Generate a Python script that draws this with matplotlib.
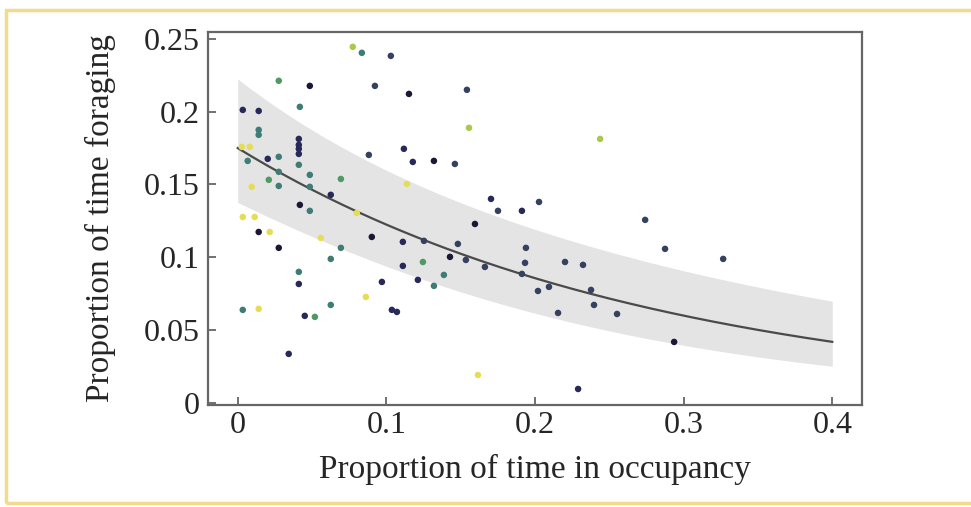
import numpy as np
import matplotlib
matplotlib.use("Agg")
import matplotlib.pyplot as plt
from matplotlib.patches import Rectangle

# ---- data ----
occupancy = [0.0034, 0.0141, 0.0485, 0.0923, 0.0411, 0.0411, 0.0411, 0.0411, 0.0202, 0.0626,
             0.0418, 0.1030, 0.1152, 0.1118, 0.1178, 0.0882, 0.0141, 0.0276, 0.0411, 0.0902,
             0.1111, 0.1253, 0.1111, 0.0970, 0.1212, 0.1037, 0.1071, 0.0451, 0.0343, 0.1542,
             0.1320, 0.1461, 0.1704, 0.1751, 0.1912, 0.2027, 0.1596, 0.1481, 0.1428, 0.1535,
             0.1663, 0.1939, 0.1933, 0.1912, 0.2020, 0.2094, 0.2202, 0.2323, 0.2377, 0.2397,
             0.2155, 0.2552, 0.2741, 0.2875, 0.3266, 0.2936, 0.2290,
             0.0418, 0.0141, 0.0141, 0.0067, 0.0276, 0.0411, 0.0276, 0.0485, 0.0276, 0.0485,
             0.0835, 0.0485, 0.0694, 0.0626, 0.0411, 0.0626, 0.0034, 0.1387, 0.1320,
             0.0276, 0.0209, 0.0694, 0.0519, 0.1246,
             0.0774, 0.1556, 0.2438,
             0.0027, 0.0081, 0.0094, 0.0801, 0.1138, 0.0034, 0.0114, 0.0215, 0.0559, 0.0862,
             0.0141, 0.1616]
foraging = [0.2012, 0.2005, 0.2177, 0.2177, 0.1813, 0.1772, 0.1745, 0.1710, 0.1676, 0.1429,
            0.1360, 0.2383, 0.2122, 0.1745, 0.1655, 0.1703, 0.1174, 0.1065, 0.0817, 0.1140,
            0.1106, 0.1113, 0.0941, 0.0831, 0.0845, 0.0639, 0.0625, 0.0598, 0.0337, 0.2150,
            0.1662, 0.1641, 0.1401, 0.1319, 0.1319, 0.1380, 0.1229, 0.1092, 0.1003, 0.0982,
            0.0934, 0.1065, 0.0962, 0.0886, 0.0769, 0.0797, 0.0968, 0.0948, 0.0776, 0.0673,
            0.0618, 0.0611, 0.1257, 0.1058, 0.0989, 0.0419, 0.0096,
            0.2033, 0.1875, 0.1841, 0.1662, 0.1690, 0.1635, 0.1587, 0.1566, 0.1490, 0.1484,
            0.2404, 0.1319, 0.1065, 0.0989, 0.0900, 0.0673, 0.0639, 0.0879, 0.0804,
            0.2212, 0.1532, 0.1538, 0.0591, 0.0968,
            0.2445, 0.1889, 0.1813,
            0.1758, 0.1758, 0.1484, 0.1305, 0.1504, 0.1277, 0.1277, 0.1174, 0.1133, 0.0728,
            0.0646, 0.0192]
group = (["n", "n", "k", "b", "n", "n", "n", "n", "n", "n",
          "k", "b", "k", "n", "n", "b", "k", "k", "n", "k",
          "n", "b", "n", "n", "n", "n", "n", "n", "n", "b",
          "k", "b", "n", "b", "n", "b", "k", "b", "k", "b",
          "b", "b", "b", "b", "b", "b", "b", "b", "b", "b",
          "b", "b", "b", "b", "b", "k", "n"]
         + ["t"] * 19 + ["g"] * 5 + ["yg"] * 3 + ["y"] * 12)

group_colors = {"k": "#1b1735", "n": "#28285a", "b": "#34425f", "t": "#3e7c76",
                "g": "#4f9a63", "yg": "#a9c94c", "y": "#e5dd55"}

# fitted model (log link): mean = a0 * exp(-k x), CI half-width in log space
fit_a0 = 0.175
fit_k = 3.57
ci_A, ci_B, ci_C = 0.0576, 0.007, 1.2475
fit_xmax = 0.4

x_ticks = [0, 0.1, 0.2, 0.3, 0.4]
x_tick_labels = ["0", "0.1", "0.2", "0.3", "0.4"]
y_ticks = [0, 0.05, 0.1, 0.15, 0.2, 0.25]
y_tick_labels = ["0", "0.05", "0.1", "0.15", "0.2", "0.25"]

plt.rcParams['font.family'] = ['Liberation Serif', 'DejaVu Serif']

fig = plt.figure(figsize=(9.71, 5.07), dpi=100)
fig.patch.set_facecolor("white")

# pale yellow frame around the figure
fig.patches.append(Rectangle((0.006, 0.008), 1.2, 0.972, transform=fig.transFigure,
                             fill=False, edgecolor="#f0dc8c", linewidth=2.5))

ax = fig.add_axes([208 / 971, 1 - 405 / 507, (862 - 208) / 971, (405 - 32) / 507])

xs = np.linspace(0, fit_xmax, 200)
mean = fit_a0 * np.exp(-fit_k * xs)
w = np.sqrt(ci_A + ci_B * xs + ci_C * xs ** 2)
ax.fill_between(xs, mean * np.exp(-w), mean * np.exp(w), color="#e4e4e4", linewidth=0, zorder=1)
ax.plot(xs, mean, color="#4a4a4a", linewidth=1.6, zorder=2)

cols = [group_colors[g] for g in group]
ax.scatter(occupancy, foraging, s=22, c=cols, edgecolors="none", zorder=3)

ax.set_xlim(-0.02, 0.42)
ax.set_ylim(-0.0014, 0.2547)
ax.set_xticks(x_ticks)
ax.set_xticklabels(x_tick_labels)
ax.set_yticks(y_ticks)
ax.set_yticklabels(y_tick_labels)
ax.tick_params(axis="x", pad=4)
ax.tick_params(direction="in", length=6, width=1.3, color="#666666",
               labelsize=23, labelcolor="#262626")
ax.tick_params(axis="y", pad=6)
for s in ax.spines.values():
    s.set_color("#666666")
    s.set_linewidth(1.6)

ax.set_xlabel("Proportion of time in occupancy", fontsize=24, color="#262626", labelpad=10)
ax.set_ylabel("Proportion of time foraging", fontsize=24, color="#262626", labelpad=20)

fig.savefig("out.png", dpi=100)
